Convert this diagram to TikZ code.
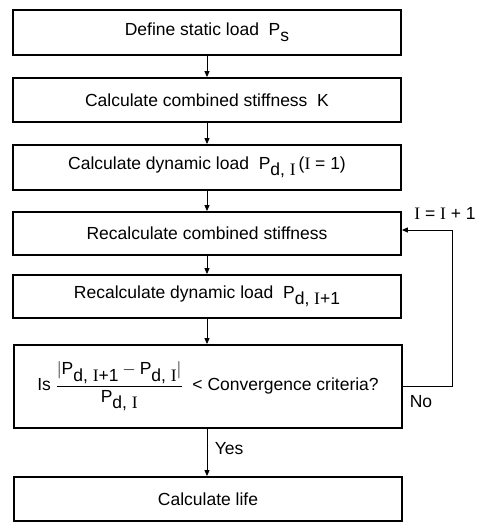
\documentclass[tikz,border=0pt]{standalone}
\usepackage{amsmath}
\usepackage{fontspec}
\setmainfont{Liberation Sans}
\newfontfamily\serfont{Liberation Serif}
\usepackage{tikz}
\usetikzlibrary{arrows.meta,positioning,calc}

\newcommand{\Iv}{{\serfont I}}
\newcommand{\lowsub}[1]{\raisebox{-0.7ex}{#1}}

\tikzset{
  box/.style={draw, line width=1.8pt, minimum width=388pt, inner sep=0pt, align=center},
  flow/.style={-{Triangle[length=6pt,width=5pt]}, line width=0.9pt}
}

\begin{document}
\begin{tikzpicture}[x=1pt, y=-1pt, font=\fontsize{17.5}{20}\selectfont]
  \useasboundingbox (0,0) rectangle (479,522);

  % Steps
  \node[box, minimum height=45pt] (static) at (207,32.5) {Define static load\ \ P\lowsub{s}};
  \node[box, minimum height=44pt] (stiff) at (207,100) {Calculate combined stiffness\ \ K};
  \node[box, minimum height=45pt] (dyn) at (207,167.5) {Calculate dynamic load\ \ P\lowsub{d, \Iv}\,(\Iv\ = 1)};
  \node[box, minimum height=43pt] (restiff) at (207,233.5) {Recalculate combined stiffness};
  \node[box, minimum height=43pt] (redyn) at (207,296.5) {Recalculate dynamic load\ \ P\lowsub{d, \Iv+1}};
  \node[box, minimum height=83pt] (check) at (208,386.5)
    {Is $\dfrac{|\mbox{P\lowsub{d, \Iv+1}} - \mbox{P\lowsub{d, \Iv}}|}{\mbox{P\lowsub{d, \Iv}}}$\ \ < Convergence criteria?};
  \node[box, minimum height=44pt] (life) at (208,499) {Calculate life};

  % Main flow
  \draw[flow] (static) -- (stiff);
  \draw[flow] (stiff) -- (dyn);
  \draw[flow] (dyn) -- (restiff);
  \draw[flow] (restiff) -- (redyn);
  \draw[flow] (redyn.south -| static) -- (check.north -| static);
  \draw[flow] (check.south -| static) -- node[right, xshift=4pt, yshift=4pt] {Yes} (life.north -| static);

  % Loop back
  \coordinate (turn) at (452,230);
  \draw[flow] (check.east) -- (check.east -| turn) -- (turn) -- (turn -| restiff.east);
  \node (inc) at (445,213) {\Iv\ = \Iv\ + 1};
  \node (no) at (421,402) {No};
\end{tikzpicture}
\end{document}
